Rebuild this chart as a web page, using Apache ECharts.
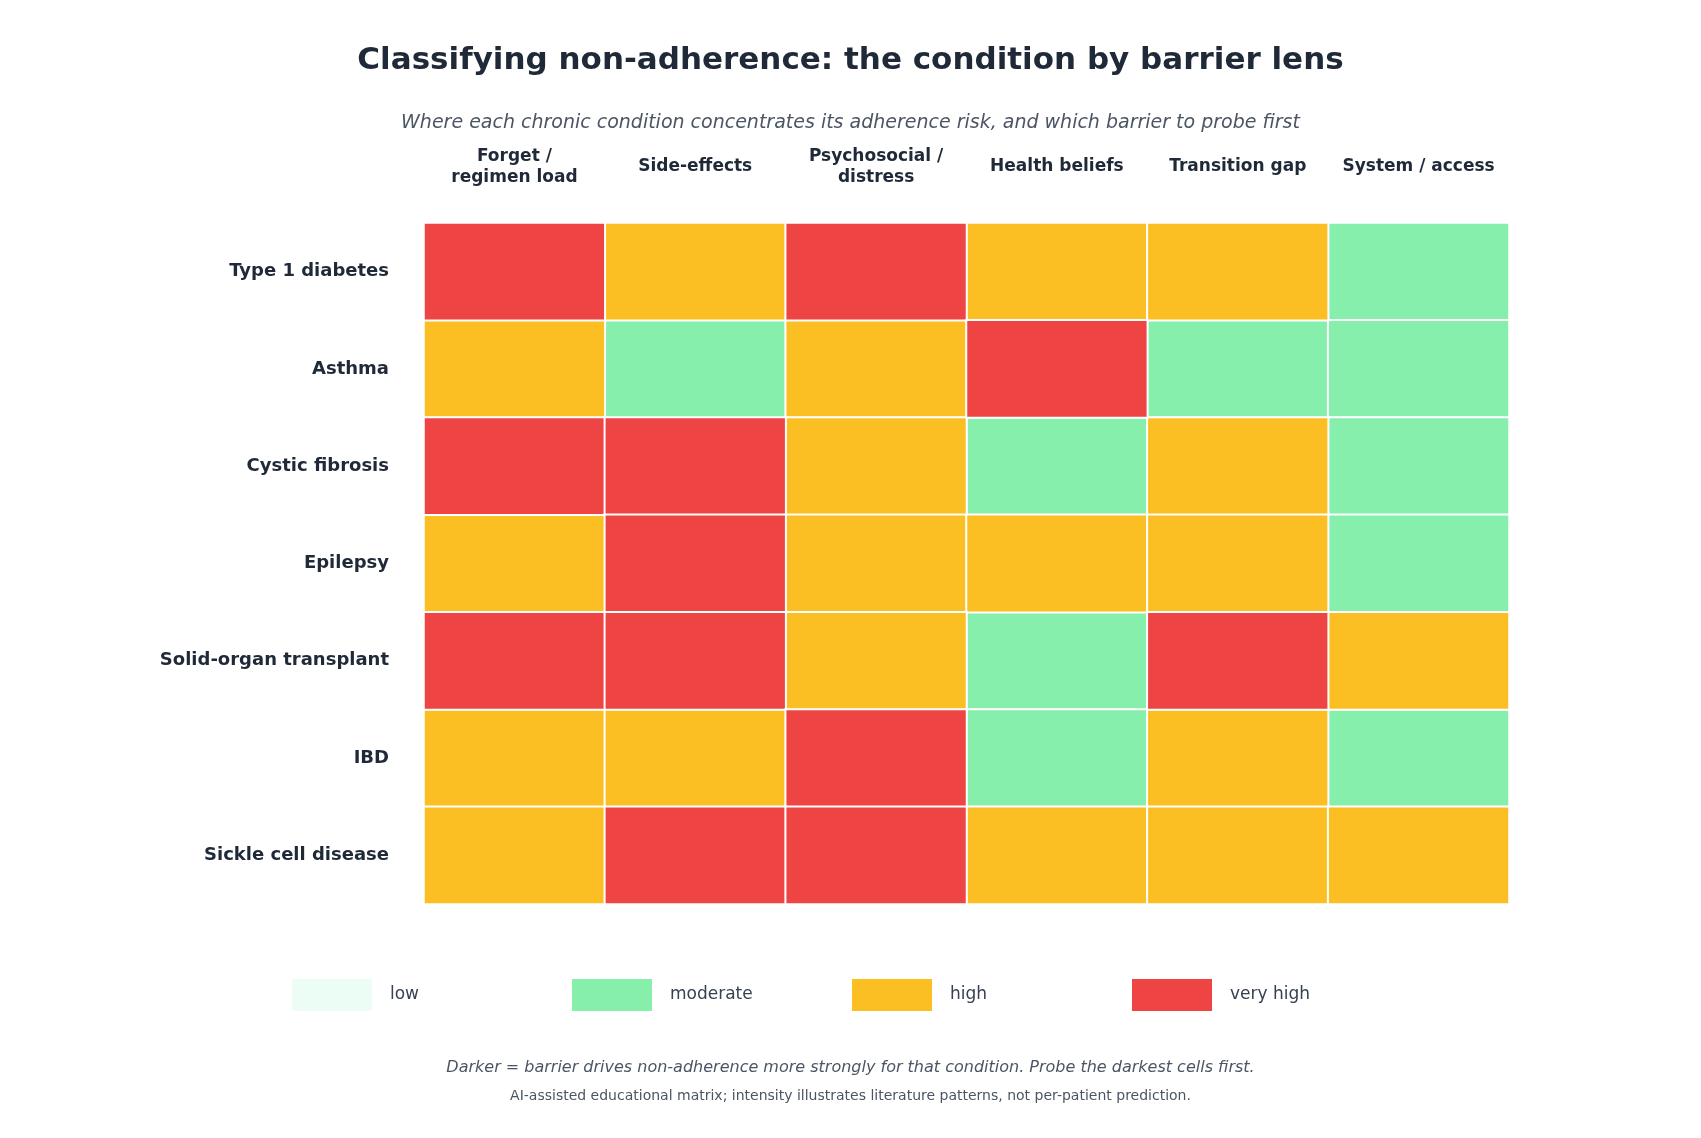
<!DOCTYPE html>
<html>
<head>
<meta charset="utf-8">
<title>Classifying non-adherence</title>
<script src="https://cdn.jsdelivr.net/npm/echarts@6/dist/echarts.min.js"></script>
<style>
	html, body { margin: 0; padding: 0; background: #ffffff; }
	#chart { width: 1701px; height: 1138px; }
</style>
</head>
<body>
<div id="chart"></div>
<script>
var barriers = ['Forget /\nregimen load', 'Side-effects', 'Psychosocial /\ndistress', 'Health beliefs', 'Transition gap', 'System / access'];
var conditions = ['Type 1 diabetes', 'Asthma', 'Cystic fibrosis', 'Epilepsy', 'Solid-organ transplant', 'IBD', 'Sickle cell disease'];
var levelNames = ['low', 'moderate', 'high', 'very high'];
var levelColors = ['#ecfdf5', '#86efac', '#fbbf24', '#ef4444'];
// 0 low, 1 moderate, 2 high, 3 very high  (one row per condition)
var intensity = [
	[3, 2, 3, 2, 2, 1],
	[2, 1, 2, 3, 1, 1],
	[3, 3, 2, 1, 2, 1],
	[2, 3, 2, 2, 2, 1],
	[3, 3, 2, 1, 3, 2],
	[2, 2, 3, 1, 2, 1],
	[2, 3, 3, 2, 2, 2]
];

var font = 'DejaVu Sans';

// split cells by level so each level is its own series (and legend entry)
var series = levelNames.map(function(name, lv) {
	var cells = [];
	for (var r = 0; r < conditions.length; r++) {
		for (var c = 0; c < barriers.length; c++) {
			if (intensity[r][c] === lv) cells.push([c, r, lv]);
		}
	}
	return {
		name: name,
		type: 'heatmap',
		data: cells,
		itemStyle: { color: levelColors[lv], borderColor: '#ffffff', borderWidth: 2 },
		emphasis: { disabled: true }
	};
});

// one legend per level so the items sit on an even 280px pitch
var legends = levelNames.map(function(name, i) {
	return {
		data: [name],
		left: 285 + i * 280, top: 972,
		icon: 'rect',
		itemWidth: 82, itemHeight: 34,
		selectedMode: false,
		textStyle: { fontFamily: font, fontSize: 17, color: '#374151', padding: [0, 0, 0, 12] }
	};
});

var chart = echarts.init(document.getElementById('chart'));
chart.setOption({
	backgroundColor: '#ffffff',
	animation: false,
	textStyle: { fontFamily: font },
	title: [{
		text: 'Classifying non-adherence: the condition by barrier lens',
		left: 'center', top: 40,
		textStyle: { fontFamily: font, fontSize: 31, fontWeight: 'bold', color: '#1f2937' }
	}, {
		text: 'Where each chronic condition concentrates its adherence risk, and which barrier to probe first',
		left: 'center', top: 109,
		textStyle: { fontFamily: font, fontSize: 19, fontStyle: 'italic', fontWeight: 'normal', color: '#4b5563' }
	}, {
		text: 'Darker = barrier drives non-adherence more strongly for that condition. Probe the darkest cells first.',
		left: 'center', top: 1055,
		textStyle: { fontFamily: font, fontSize: 16, fontStyle: 'italic', fontWeight: 'normal', color: '#4b5563' }
	}, {
		text: 'AI-assisted educational matrix; intensity illustrates literature patterns, not per-patient prediction.',
		left: 'center', top: 1084,
		textStyle: { fontFamily: font, fontSize: 14, fontWeight: 'normal', color: '#4b5563' }
	}],
	legend: legends,
	grid: { left: 424, top: 223, width: 1085, height: 681 },
	xAxis: {
		type: 'category',
		position: 'top',
		data: barriers,
		axisLine: { show: false },
		axisTick: { show: false },
		splitLine: { show: false },
		axisLabel: {
			interval: 0, margin: 56, verticalAlign: 'middle',
			fontFamily: font, fontSize: 17, fontWeight: 'bold', color: '#1f2937', lineHeight: 21
		}
	},
	yAxis: {
		type: 'category',
		inverse: true,
		data: conditions,
		axisLine: { show: false },
		axisTick: { show: false },
		splitLine: { show: false },
		axisLabel: {
			margin: 35,
			fontFamily: font, fontSize: 18, fontWeight: 'bold', color: '#1f2937'
		}
	},
	series: series
});
</script>
</body>
</html>
